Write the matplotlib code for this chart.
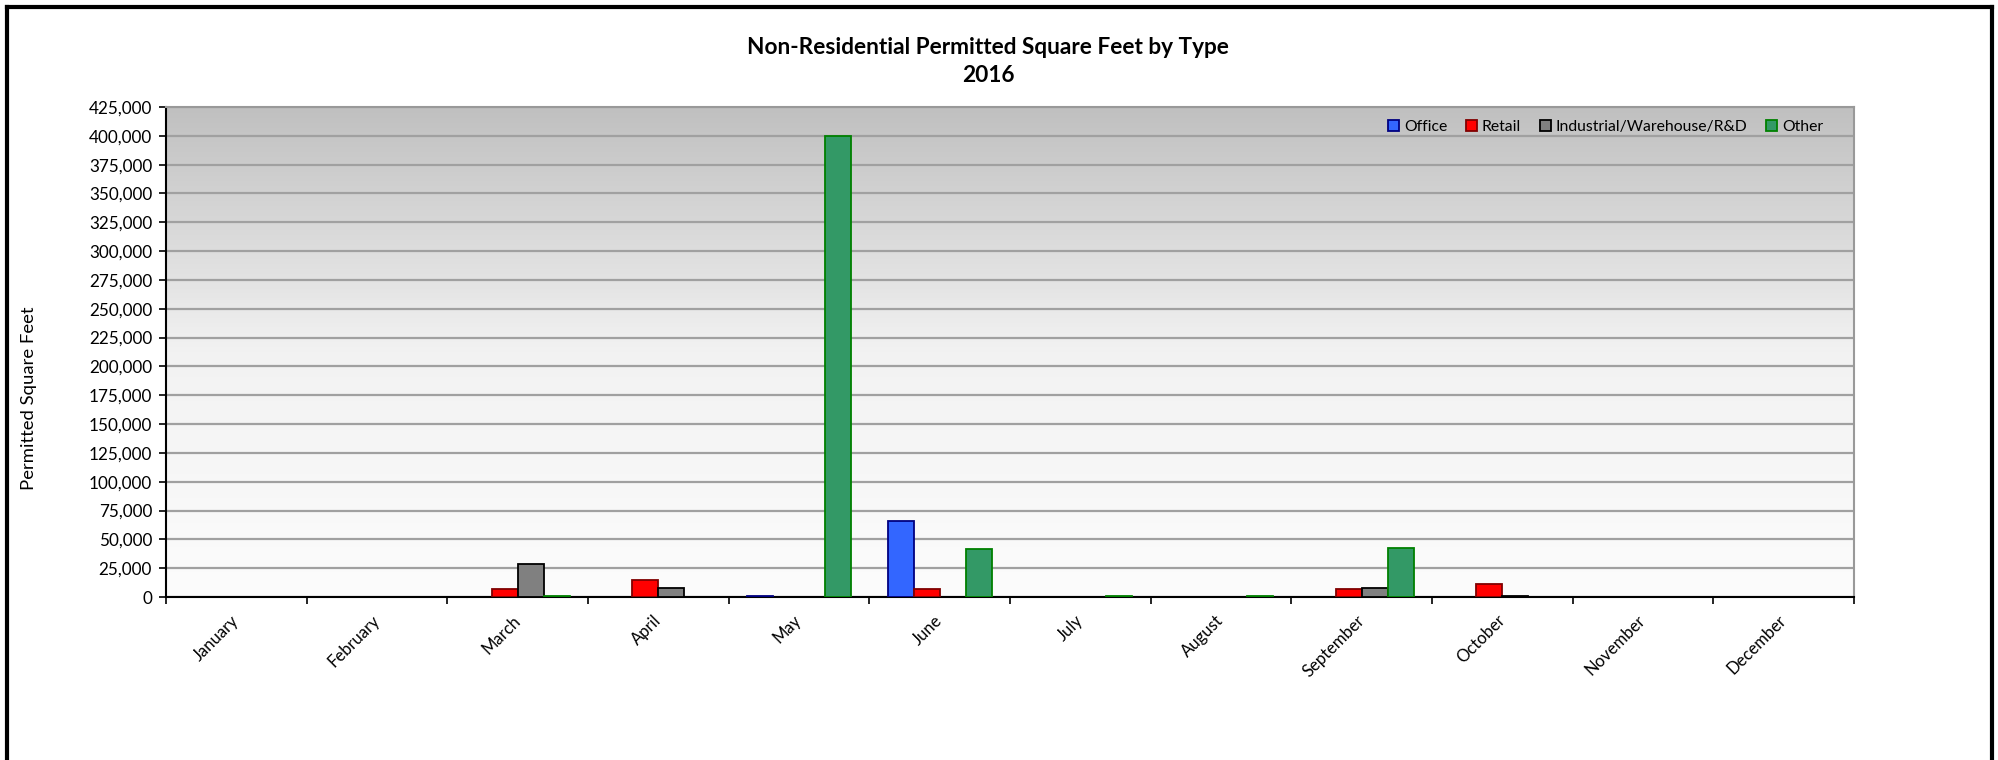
import numpy as np
import matplotlib
matplotlib.use("Agg")
import matplotlib.pyplot as plt
from matplotlib.lines import Line2D
from matplotlib.patches import Patch
from matplotlib.ticker import FuncFormatter, MultipleLocator

plt.rcParams["font.family"] = ["Lato", "DejaVu Sans"]

months = ["January", "February", "March", "April", "May", "June",
          "July", "August", "September", "October", "November", "December"]
office = [0, 0, 0, 0, 1000, 65500, 0, 0, 0, 0, 0, 0]
retail = [0, 0, 6700, 14500, 0, 7300, 0, 0, 7300, 11000, 0, 0]
industrial = [0, 0, 28400, 7800, 0, 0, 0, 0, 8200, 1000, 0, 0]
other = [0, 0, 500, 0, 399500, 41400, 500, 500, 42600, 0, 0, 0]

series = [
    ("Office", office, "#3366ff", "#000080"),
    ("Retail", retail, "#ff0000", "#800000"),
    ("Industrial/Warehouse/R&D", industrial, "#808080", "#000000"),
    ("Other", other, "#339966", "#008000"),
]

W, H = 1998, 760
fig = plt.figure(figsize=(W / 100, H / 100), dpi=100)
ax = fig.add_axes([166 / W, 1 - 597 / H, (1854 - 166) / W, (597 - 107) / H])

# gradient background (dark at top, near white at bottom)
grad = np.linspace(0, 1, 256).reshape(-1, 1)
cmap = matplotlib.colors.LinearSegmentedColormap.from_list("bg", ["#fcfcfc", "#f2f2f2", "#c0c0c0"])
ax.imshow(grad, extent=[-0.5, 11.5, 0, 425000], origin="lower", aspect="auto",
          cmap=cmap, zorder=0)

x = np.arange(len(months))
bw = 0.185
for i, (name, vals, fc, ec) in enumerate(series):
    vals = np.array(vals)
    idx = np.nonzero(vals)[0]
    ax.bar(x[idx] + (i - 1.5) * bw, vals[idx], width=bw, color=fc, edgecolor=ec,
           linewidth=1.3, zorder=3)

ax.set_xlim(-0.5, 11.5)
ax.set_ylim(0, 425000)
ax.yaxis.set_major_locator(MultipleLocator(25000))
ax.yaxis.set_major_formatter(FuncFormatter(lambda v, p: f"{int(v):,}"))
ax.grid(axis="y", color="#a0a0a0", linewidth=1.6, zorder=1)
ax.set_axisbelow(True)

ax.set_xticks(np.arange(-0.5, 12, 1))
ax.set_xticklabels([])
ax.set_xticks(x, minor=True)
ax.set_xticklabels(months, minor=True, rotation=45, ha="right", va="center",
                   rotation_mode="anchor", fontsize=12)
ax.tick_params(axis="x", which="minor", length=0, pad=15)
ax.tick_params(axis="x", which="major", length=5, width=1.2, direction="out")
ax.tick_params(axis="y", length=5, width=1.2, labelsize=12.3, pad=5)

for s in ["left", "bottom"]:
    ax.spines[s].set_color("black")
    ax.spines[s].set_linewidth(1.5)
for s in ["top", "right"]:
    ax.spines[s].set_color("#999999")
    ax.spines[s].set_linewidth(1.5)

handles = [Patch(facecolor=fc, edgecolor=ec, linewidth=1.3, label=name)
           for name, _, fc, ec in series]
ax.legend(handles=handles, loc="upper right", ncol=4, frameon=False,
          fontsize=11.3, handlelength=0.7, handleheight=0.7, handletextpad=0.3,
          columnspacing=1.2, bbox_to_anchor=(0.99, 1.003))

fig.text(988 / W, 1 - 47 / H, "Non-Residential Permitted Square Feet by Type",
         ha="center", va="center", fontsize=16.3, fontweight="bold")
fig.text(988 / W, 1 - 76 / H, "2016", ha="center", va="center",
         fontsize=16.3, fontweight="bold")
fig.text(29 / W, 1 - 398 / H, "Permitted Square Feet", rotation=90,
         ha="center", va="center", fontsize=13.3)

# outer chart frame (bottom edge is cut off in the original)
for xs, ys in [([7, 7], [H, 7]), ([7, 1992], [7, 7]), ([1992, 1992], [7, H])]:
    fig.add_artist(Line2D([v / W for v in xs], [1 - v / H for v in ys],
                          color="black", linewidth=3))

fig.savefig("out.png", dpi=100)
